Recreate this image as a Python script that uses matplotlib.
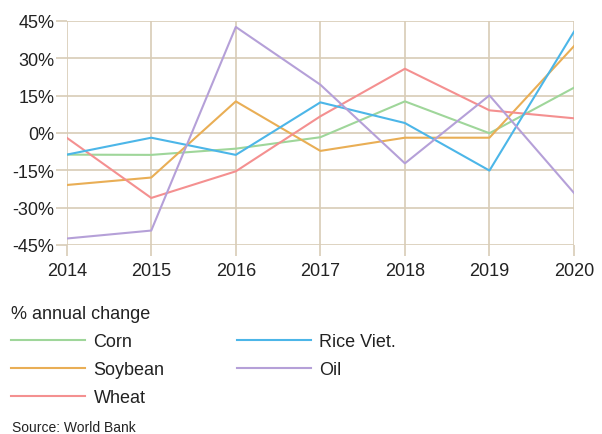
import matplotlib
matplotlib.use("Agg")
import matplotlib.pyplot as plt
from matplotlib.ticker import FuncFormatter

plt.rcParams['font.family'] = ['Liberation Sans', 'DejaVu Sans']

# annual % change
years = [2014, 2015, 2016, 2017, 2018, 2019, 2020]
corn = [-8.7, -8.8, -6.3, -1.7, 12.7, -0.1, 18.2]
rice_viet = [-8.7, -1.9, -8.8, 12.3, 4.0, -15.1, 40.7]
soybean = [-20.9, -17.9, 12.7, -7.2, -1.9, -1.9, 34.9]
oil = [-42.4, -39.2, 42.6, 19.4, -12.2, 15.1, -24.1]
wheat = [-1.9, -26.1, -15.4, 6.7, 25.8, 9.1, 5.9]
y_ticks = [-45, -30, -15, 0, 15, 30, 45]

grid_col = '#d8ccb6'

fig = plt.figure(figsize=(6.02, 4.35), dpi=100)
ax = fig.add_axes([0.1108, 0.4345, 0.8427, 0.515])

series = [
    ('Corn', corn, '#9fd69a'),
    ('Soybean', soybean, '#e9ae55'),
    ('Wheat', wheat, '#f49090'),
    ('Rice Viet.', rice_viet, '#4cb6e8'),
    ('Oil', oil, '#b5a0d8'),
]
handles = []
for name, vals, col in series:
    ln, = ax.plot(years, vals, color=col, linewidth=1.5, label=name, zorder=3)
    handles.append(ln)

ax.set_xlim(2014, 2020)
ax.set_ylim(-45, 45)
ax.set_xticks(years)
ax.set_yticks(y_ticks)
ax.yaxis.set_major_formatter(FuncFormatter(lambda v, p: f"{v:.0f}%"))
ax.grid(True, color=grid_col, linewidth=1.2, zorder=0)
for s in ax.spines.values():
    s.set_visible(False)
ax.tick_params(axis='both', color=grid_col, width=1.2, length=8, labelsize=13, colors='#222222')
ax.tick_params(axis='both', color=grid_col)
ax.tick_params(axis='y', pad=1)
ax.tick_params(axis='x', pad=4)

leg = fig.legend(handles=handles, loc='upper left', bbox_to_anchor=(0.019, 0.297),
                 ncol=2, frameon=False, fontsize=13, title='% annual change',
                 title_fontsize=13, alignment='left', handlelength=4.1,
                 handletextpad=0.45, columnspacing=4.0, labelspacing=0.62,
                 borderpad=0, borderaxespad=0)
for t in leg.get_texts():
    t.set_color('#222222')
leg.get_title().set_color('#222222')

fig.text(0.02, 0.008, 'Source: World Bank', fontsize=10, color='#222222')

fig.savefig('out.png', dpi=100)
